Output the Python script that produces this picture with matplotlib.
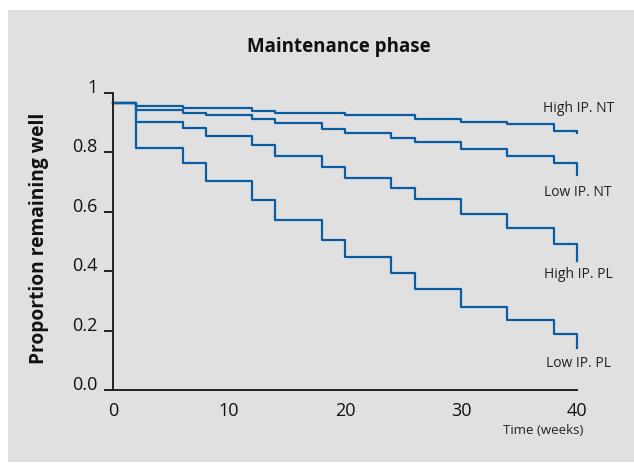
import matplotlib
matplotlib.use("Agg")
import matplotlib.pyplot as plt
from matplotlib.patches import Rectangle

# Kaplan-Meier style step data (proportion remaining well)
weeks = [0, 2, 6, 8, 12, 14, 18, 20, 24, 26, 30, 34, 38, 40]
high_ip_nt = [0.964, 0.956, 0.950, 0.950, 0.938, 0.932, 0.932, 0.925, 0.925, 0.912, 0.902, 0.894, 0.872, 0.863]
low_ip_nt = [0.964, 0.943, 0.931, 0.924, 0.913, 0.899, 0.878, 0.866, 0.847, 0.833, 0.810, 0.787, 0.762, 0.723]
high_ip_pl = [0.964, 0.902, 0.882, 0.855, 0.824, 0.787, 0.749, 0.712, 0.681, 0.641, 0.592, 0.546, 0.491, 0.435]
low_ip_pl = [0.964, 0.813, 0.765, 0.703, 0.639, 0.572, 0.505, 0.446, 0.393, 0.340, 0.280, 0.235, 0.188, 0.140]

series = [("High IP. NT", high_ip_nt, 0.9475),
          ("Low IP. NT", low_ip_nt, 0.664),
          ("High IP. PL", high_ip_pl, 0.387),
          ("Low IP. PL", low_ip_pl, 0.0875)]

y_ticks = [0.0, 0.2, 0.4, 0.6, 0.8, 1.0]
y_ticklabels = ["0.0", "0.2", "0.4", "0.6", "0.8", "1"]
x_ticks = [0, 10, 20, 30, 40]

BLUE = "#0a5da3"
GRAY = "#e0e0e0"
DARK = "#231f20"
FONT = ["Open Sans", "DejaVu Sans"]
plt.rcParams["font.family"] = FONT

W, H = 634, 467
fig = plt.figure(figsize=(W / 100, H / 100), dpi=100)
fig.patch.set_facecolor("white")
fig.add_artist(Rectangle((8 / W, 1 - 462 / H), 1 - 8 / W, (462 - 10) / H,
                         transform=fig.transFigure, facecolor=GRAY, edgecolor="none", zorder=0))

ax = fig.add_axes([113 / W, 1 - 390 / H, (577 - 113) / W, (390 - 92.7) / H])
ax.patch.set_visible(False)

for name, vals, ylab in series:
    ax.plot(weeks, vals, drawstyle="steps-post", color=BLUE, lw=1.6, clip_on=False)
    ax.text(40.1, ylab, name, ha="center", va="center", fontsize=10, color="#222222", clip_on=False)

ax.set_xlim(0, 40)
ax.set_ylim(0, 1)
ax.set_xticks(x_ticks)
ax.set_yticks(y_ticks)
ax.set_yticklabels(y_ticklabels)
for lab in ax.get_yticklabels():
    lab.set_va("baseline")

for s in ["top", "right"]:
    ax.spines[s].set_visible(False)
for s in ["left", "bottom"]:
    ax.spines[s].set_color(DARK)
    ax.spines[s].set_linewidth(1.4)
ax.tick_params(axis="y", length=6.3, width=1.4, color=DARK, pad=5, labelsize=13, labelcolor="#111111")
ax.tick_params(axis="x", length=0, pad=9, labelsize=13, labelcolor="#111111")

ax.text(583 / W, 1 - 430.7 / H, "Time (weeks)", transform=fig.transFigure, ha="right", va="center",
        fontsize=9.5, color="#222222")
fig.text(39 / W, 1 - 238 / H, "Proportion remaining well", rotation=90, ha="center", va="center",
         fontsize=13.8, fontweight="bold", color="#111111")
fig.text(339 / W, 1 - 51.7 / H, "Maintenance phase", ha="center", va="baseline",
         fontsize=13.5, fontweight="bold", color="#111111")

fig.savefig("out.png", dpi=100)
